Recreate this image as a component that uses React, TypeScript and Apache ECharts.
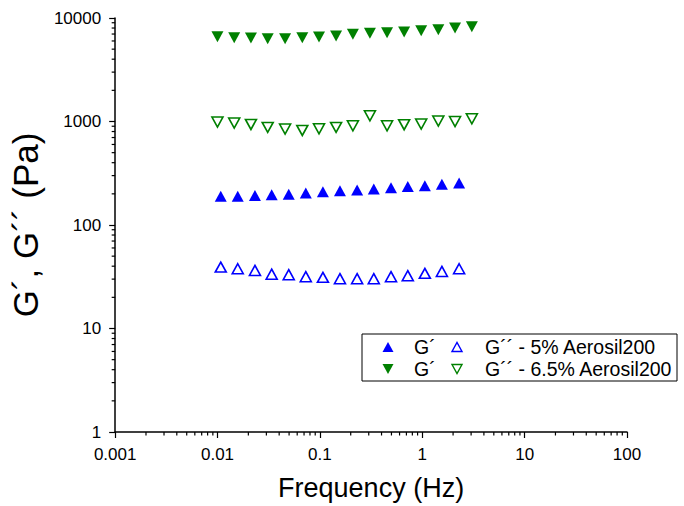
import React, { useEffect, useRef } from 'react';
import * as echarts from 'echarts';

// Frequency (Hz) and moduli (Pa)
const freq5 = [0.01075, 0.01575, 0.0232, 0.0338, 0.0496, 0.0728, 0.107, 0.157, 0.231, 0.336, 0.495, 0.722, 1.06, 1.555, 2.29];
const gPrime5 = [189.5, 189.5, 192.4, 195.5, 198, 204, 209, 214, 218, 223, 228.5, 235, 240, 247, 255];
const gDouble5 = [39.2, 37.8, 36.4, 33.5, 33.1, 31.7, 31.2, 30.3, 30.3, 30.3, 31.7, 32.4, 34.1, 35.6, 37.8];

const freq65 = [0.00998, 0.01455, 0.0212, 0.0309, 0.0457, 0.0673, 0.098, 0.1439, 0.21, 0.308, 0.453, 0.665, 0.976, 1.435, 2.09, 3.05];
const gPrime65 = [6607, 6457, 6412, 6313, 6313, 6457, 6561, 6707, 6970, 7128, 7215, 7330, 7550, 7715, 8015, 8245];
const gDouble65 = [988, 966, 937, 877, 846, 820, 851, 877, 910, 1136, 910, 931, 945, 1010, 1000, 1063];

const xTickLabels = ['0.001', '0.01', '0.1', '1', '10', '100'];
const yTickLabels = ['1', '10', '100', '1000', '10000'];
const xDecades = [-3, -2, -1, 0, 1];
const yDecades = [0, 1, 2, 3];
const minorMultipliers = [2, 3, 4, 5, 6, 7, 8, 9];

const seriesNames = ['G´ (5%)', 'G´´ (5%)', 'G´ (6.5%)', 'G´´ (6.5%)'];
const legendRow1 = ['G´', 'G´´ - 5% Aerosil200'];
const legendRow2 = ['G´', 'G´´ - 6.5% Aerosil200'];

const FONT = '"Liberation Sans", Arial, sans-serif';
const BLUE = '#0000ff';
const GREEN = '#008000';
const UP = 'path://M5,0L10,9L0,9Z';
const DOWN = 'path://M0,0L10,0L5,9Z';

const zip = (xs: number[], ys: number[]) => xs.map((x, i) => [x, ys[i]]);

function tri(cx: number, cy: number, up: boolean, w: number, h: number) {
  return up
    ? [[cx - w / 2, cy + h / 2], [cx + w / 2, cy + h / 2], [cx, cy - h / 2]]
    : [[cx - w / 2, cy - h / 2], [cx + w / 2, cy - h / 2], [cx, cy + h / 2]];
}

export default function App() {
  const ref = useRef<HTMLDivElement>(null);

  useEffect(() => {
    if (!ref.current) return;
    const chart = echarts.init(ref.current, null, { renderer: 'svg' });

    const xMinor: number[][] = [];
    xDecades.forEach((d) => minorMultipliers.forEach((m) => xMinor.push([m * Math.pow(10, d), 1])));
    const yMinor: number[][] = [];
    yDecades.forEach((d) => minorMultipliers.forEach((m) => yMinor.push([0.001, m * Math.pow(10, d)])));

    const tickIdx = (v: number) => Math.round(Math.log10(v));

    // legend layout
    const lgX = 362, lgY = 334, lgW = 315, lgH = 47;
    const r1 = 347, r2 = 369;
    const ic1 = 388, tx1 = 414, ic2 = 457, tx2 = 485;
    const textStyle = (text: string, x: number, y: number) => ({
      type: 'text',
      x,
      y,
      silent: true,
      style: { text, fontSize: 19.5, fontFamily: FONT, fill: '#000', verticalAlign: 'middle', align: 'left' },
    });

    chart.setOption({
      animation: false,
      backgroundColor: '#fff',
      grid: { left: 108, right: 57, top: 18, bottom: 73, containLabel: false },
      xAxis: {
        type: 'log',
        logBase: 10,
        min: 0.001,
        max: 100,
        name: 'Frequency (Hz)',
        nameLocation: 'middle',
        nameGap: 42,
        nameTextStyle: { fontSize: 27, color: '#000', fontFamily: FONT },
        axisLine: { show: true, lineStyle: { color: '#000', width: 1.5 } },
        axisTick: { show: true, length: 6, lineStyle: { color: '#000', width: 1.2 } },
        axisLabel: {
          fontSize: 17,
          color: '#000',
          fontFamily: FONT,
          margin: 14,
          formatter: (v: number) => xTickLabels[tickIdx(v) + 3],
        },
        splitLine: { show: false },
      },
      yAxis: {
        type: 'log',
        logBase: 10,
        min: 1,
        max: 10000,
        name: 'G´, G´´ (Pa)',
        nameLocation: 'middle',
        nameGap: 60,
        nameRotate: 90,
        nameTextStyle: { fontSize: 35, color: '#000', fontFamily: FONT },
        axisLine: { show: true, lineStyle: { color: '#000', width: 1.5 } },
        axisTick: { show: true, length: 6, lineStyle: { color: '#000', width: 1.2 } },
        axisLabel: {
          fontSize: 17,
          color: '#000',
          fontFamily: FONT,
          margin: 14,
          formatter: (v: number) => yTickLabels[tickIdx(v)],
        },
        splitLine: { show: false },
      },
      graphic: [
        {
          type: 'rect',
          silent: true,
          shape: { x: lgX, y: lgY, width: lgW, height: lgH },
          style: { fill: '#fff', stroke: '#000', lineWidth: 1 },
        },
        { type: 'polygon', silent: true, shape: { points: tri(ic1, r1, true, 11, 10) }, style: { fill: BLUE } },
        textStyle(legendRow1[0], tx1, r1),
        {
          type: 'polygon',
          silent: true,
          shape: { points: tri(ic2, r1, true, 10, 9) },
          style: { fill: '#fff', stroke: BLUE, lineWidth: 1.4 },
        },
        textStyle(legendRow1[1], tx2, r1),
        { type: 'polygon', silent: true, shape: { points: tri(ic1, r2, false, 11, 10) }, style: { fill: GREEN } },
        textStyle(legendRow2[0], tx1, r2),
        {
          type: 'polygon',
          silent: true,
          shape: { points: tri(ic2, r2, false, 10, 9) },
          style: { fill: '#fff', stroke: GREEN, lineWidth: 1.4 },
        },
        textStyle(legendRow2[1], tx2, r2),
      ],
      series: [
        {
          name: seriesNames[0],
          type: 'scatter',
          symbol: UP,
          symbolSize: [12, 11],
          itemStyle: { color: BLUE, opacity: 1 },
          data: zip(freq5, gPrime5),
        },
        {
          name: seriesNames[1],
          type: 'scatter',
          symbol: UP,
          symbolSize: [11, 10],
          itemStyle: { color: '#fff', borderColor: BLUE, borderWidth: 1.6, opacity: 1 },
          data: zip(freq5, gDouble5),
        },
        {
          name: seriesNames[2],
          type: 'scatter',
          symbol: DOWN,
          symbolSize: [12, 11],
          itemStyle: { color: GREEN, opacity: 1 },
          data: zip(freq65, gPrime65),
        },
        {
          name: seriesNames[3],
          type: 'scatter',
          symbol: DOWN,
          symbolSize: [11, 10],
          itemStyle: { color: '#fff', borderColor: GREEN, borderWidth: 1.6, opacity: 1 },
          data: zip(freq65, gDouble65),
        },
        {
          name: 'xMinorTicks',
          type: 'custom',
          silent: true,
          clip: false,
          data: xMinor,
          renderItem: (_p: any, api: any) => {
            const pt = api.coord([api.value(0), api.value(1)]);
            return {
              type: 'line',
              shape: { x1: pt[0], y1: pt[1], x2: pt[0], y2: pt[1] + 3.5 },
              style: { stroke: '#000', lineWidth: 1.2 },
            };
          },
        },
        {
          name: 'yMinorTicks',
          type: 'custom',
          silent: true,
          clip: false,
          data: yMinor,
          renderItem: (_p: any, api: any) => {
            const pt = api.coord([api.value(0), api.value(1)]);
            return {
              type: 'line',
              shape: { x1: pt[0], y1: pt[1], x2: pt[0] - 3.5, y2: pt[1] },
              style: { stroke: '#000', lineWidth: 1.2 },
            };
          },
        },
      ],
    });

    return () => chart.dispose();
  }, []);

  return (
    <div
      ref={ref}
      style={{ position: 'absolute', left: 0, top: 0, width: 684, height: 506 }}
    />
  );
}
